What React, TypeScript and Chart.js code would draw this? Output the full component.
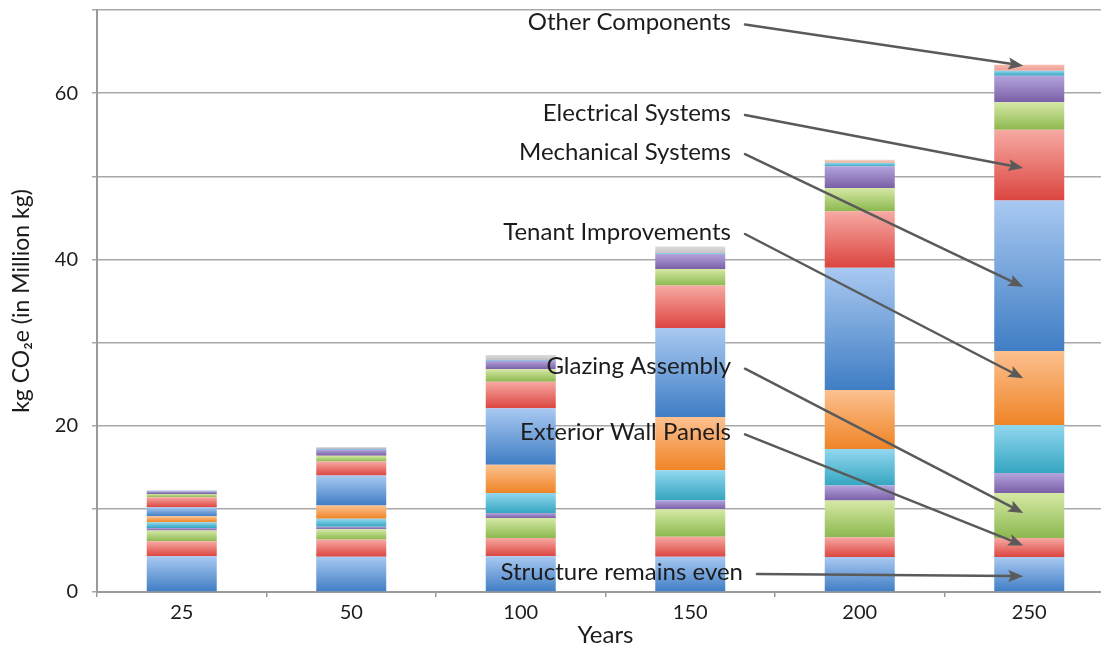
import React, { useEffect, useRef } from "react";
import { Chart, registerables } from "chart.js";

Chart.register(...registerables);

// Service-life years shown on the category axis
const years = ["25", "50", "100", "150", "200", "250"];

// Embodied carbon per component group (million kg CO2e), bottom of stack first
const structure = [4.3, 4.25, 4.3, 4.25, 4.2, 4.2];
const exteriorWallPanels = [1.8, 2.05, 2.2, 2.4, 2.4, 2.3];
const glazingAssembly = [1.3, 1.25, 2.4, 3.3, 4.4, 5.4];
const series4 = [0.3, 0.3, 0.6, 1.1, 1.8, 2.4];
const series5 = [0.7, 0.95, 2.4, 3.6, 4.4, 5.8];
const tenantImprovements = [0.7, 1.6, 3.4, 6.4, 7.1, 8.9];
const mechanicalSystems = [1.1, 3.6, 6.8, 10.7, 14.7, 18.1];
const electricalSystems = [1.2, 1.7, 3.2, 5.1, 6.8, 8.5];
const series9 = [0.4, 0.7, 1.5, 2.0, 2.8, 3.3];
const series10 = [0.3, 0.7, 1.0, 1.8, 2.6, 3.2];
const series11 = [0.05, 0.1, 0.1, 0.1, 0.4, 0.6];
const otherComponents = [0.05, 0.2, 0.6, 0.8, 0.4, 0.7];

const seriesNames = [
  "Structure",
  "Exterior Wall Panels",
  "Glazing Assembly",
  "Series 4",
  "Series 5",
  "Tenant Improvements",
  "Mechanical Systems",
  "Electrical Systems",
  "Series 9",
  "Series 10",
  "Series 11",
  "Other Components",
];
const seriesValues = [
  structure,
  exteriorWallPanels,
  glazingAssembly,
  series4,
  series5,
  tenantImprovements,
  mechanicalSystems,
  electricalSystems,
  series9,
  series10,
  series11,
  otherComponents,
];

// Gradient colours for each series: [top (light), bottom (deep)]
const blueShade = ["#a9c9f1", "#3f7dc4"];
const redShade = ["#f7a9a3", "#dc4540"];
const greenShade = ["#d6e9a6", "#8cb84f"];
const purpleShade = ["#b3a4dc", "#7a5fa6"];
const tealShade = ["#92d7ef", "#35a6c0"];
const orangeShade = ["#fcc190", "#ef8426"];
const seriesShades = [
  blueShade,
  redShade,
  greenShade,
  purpleShade,
  tealShade,
  orangeShade,
  blueShade,
  redShade,
  greenShade,
  purpleShade,
  tealShade,
];
// Top series shade varies per bar
const topShades = [
  ["#c9bde0", "#b9aed4"],
  ["#d2ccd6", "#b8b4c4"],
  ["#dcdcdc", "#c4c0c6"],
  ["#dcdcdc", "#c6c2c4"],
  ["#f3d3c0", "#e6b8a8"],
  ["#f7b9ad", "#ee9f96"],
];

// Callouts: text, label centre (value units), arrow tip (value units), label right edge (px)
const calloutTexts = [
  "Other Components",
  "Electrical Systems",
  "Mechanical Systems",
  "Tenant Improvements",
  "Glazing Assembly",
  "Exterior Wall Panels",
  "Structure remains even",
];
const calloutLabelValues = [68.5, 57.6, 52.9, 43.3, 27.1, 19.2, 2.4];
const calloutTipValues = [63.3, 51.0, 36.7, 25.7, 9.5, 5.6, 1.9];
const calloutRightEdges = [731, 731, 731, 731, 731, 731, 743];

const FONT = "Lato, 'Open Sans', sans-serif";

const calloutPlugin = {
  id: "callouts",
  afterDatasetsDraw(chart: any) {
    const ctx = chart.ctx as CanvasRenderingContext2D;
    const y = chart.scales.y;
    const x = chart.scales.x;
    const tipX = x.getPixelForValue(years.length - 1) - 6;
    ctx.save();
    ctx.font = `24px ${FONT}`;
    ctx.textAlign = "right";
    ctx.textBaseline = "middle";
    calloutTexts.forEach((text, i) => {
      const ly = y.getPixelForValue(calloutLabelValues[i]);
      const rx = calloutRightEdges[i];
      ctx.fillStyle = "#1c1c1c";
      ctx.fillText(text, rx, ly);

      const sx = rx + 14;
      const sy = ly + 2;
      const ty = y.getPixelForValue(calloutTipValues[i]);
      const ang = Math.atan2(ty - sy, tipX - sx);
      const headLen = 15;
      const headW = 6;
      const bx = tipX - headLen * Math.cos(ang);
      const by = ty - headLen * Math.sin(ang);

      ctx.strokeStyle = "#5a5a5a";
      ctx.lineWidth = 2.5;
      ctx.lineCap = "round";
      ctx.beginPath();
      ctx.moveTo(sx, sy);
      ctx.lineTo(bx + 4 * Math.cos(ang), by + 4 * Math.sin(ang));
      ctx.stroke();

      ctx.fillStyle = "#5a5a5a";
      ctx.beginPath();
      ctx.moveTo(tipX, ty);
      ctx.lineTo(bx - headW * Math.sin(ang), by + headW * Math.cos(ang));
      ctx.lineTo(bx + 3 * Math.cos(ang), by + 3 * Math.sin(ang));
      ctx.lineTo(bx + headW * Math.sin(ang), by - headW * Math.cos(ang));
      ctx.closePath();
      ctx.fill();
    });
    ctx.restore();
  },
};

function segmentFill(context: any, shadeFor: (i: number) => string[]) {
  const chart = context.chart;
  const di = context.dataIndex;
  const dsi = context.datasetIndex;
  const shade = shadeFor(di);
  const yScale = chart.scales?.y;
  if (context.type !== "data" || !yScale || !chart.chartArea) return shade[1];
  let base = 0;
  for (let k = 0; k < dsi; k++) base += seriesValues[k][di];
  const top = base + seriesValues[dsi][di];
  const yTop = yScale.getPixelForValue(top);
  const yBot = yScale.getPixelForValue(base);
  if (!isFinite(yTop) || !isFinite(yBot) || yBot - yTop < 0.5) return shade[1];
  const g = chart.ctx.createLinearGradient(0, yTop, 0, yBot);
  g.addColorStop(0, shade[0]);
  g.addColorStop(1, shade[1]);
  return g;
}

export default function App() {
  const canvasRef = useRef<HTMLCanvasElement | null>(null);

  useEffect(() => {
    document.body.style.overflow = "hidden";
    const canvas = canvasRef.current;
    if (!canvas) return;

    const datasets = seriesNames.map((name, i) => ({
      label: name,
      data: seriesValues[i],
      backgroundColor: (c: any) =>
        segmentFill(c, (di) =>
          i < seriesShades.length ? seriesShades[i] : topShades[di]
        ),
      borderWidth: 0,
      categoryPercentage: 1,
      barPercentage: 0.413,
    }));

    const chart = new Chart(canvas, {
      type: "bar",
      data: { labels: years, datasets },
      plugins: [calloutPlugin],
      options: {
        animation: false,
        responsive: false,
        maintainAspectRatio: false,
        devicePixelRatio: 1,
        layout: { padding: { top: 10, right: 8, bottom: 0, left: 0 } },
        plugins: {
          legend: { display: false },
          tooltip: { enabled: false },
        },
        scales: {
          x: {
            stacked: true,
            grid: {
              offset: true,
              drawOnChartArea: false,
              drawTicks: true,
              tickLength: 5,
              color: "#9a9a9a",
              lineWidth: 1.5,
            },
            border: { color: "#9a9a9a", width: 2 },
            ticks: {
              color: "#1c1c1c",
              font: { family: FONT, size: 20 },
              padding: 4,
            },
            title: {
              display: true,
              text: "Years",
              color: "#1c1c1c",
              font: { family: FONT, size: 24 },
              padding: { top: 0, bottom: 0 },
            },
            afterFit(scale: any) {
              scale.height = 58;
              scale.paddingLeft = 0;
              scale.paddingRight = 0;
            },
          },
          y: {
            stacked: true,
            min: 0,
            max: 70,
            grid: {
              color: "#a8a8a8",
              lineWidth: 1.5,
              tickLength: 5,
              drawTicks: true,
            },
            border: { color: "#9a9a9a", width: 2 },
            ticks: {
              stepSize: 10,
              color: "#1c1c1c",
              font: { family: FONT, size: 20 },
              padding: 14,
              callback: (v: any) => (Number(v) % 20 === 0 ? String(v) : ""),
            },
            title: {
              display: true,
              text: "kg CO₂e (in Million kg)",
              color: "#1c1c1c",
              font: { family: FONT, size: 23 },
              padding: { top: 8, bottom: 0 },
            },
            afterFit(scale: any) {
              scale.width = 97;
              scale.paddingTop = 0;
              scale.paddingBottom = 0;
            },
          },
        },
      },
    });

    return () => chart.destroy();
  }, []);

  return (
    <div style={{ position: "fixed", left: 0, top: 0, width: 1122, height: 650, background: "#fff" }}>
      <canvas ref={canvasRef} width={1122} height={650} style={{ display: "block" }} />
    </div>
  );
}
